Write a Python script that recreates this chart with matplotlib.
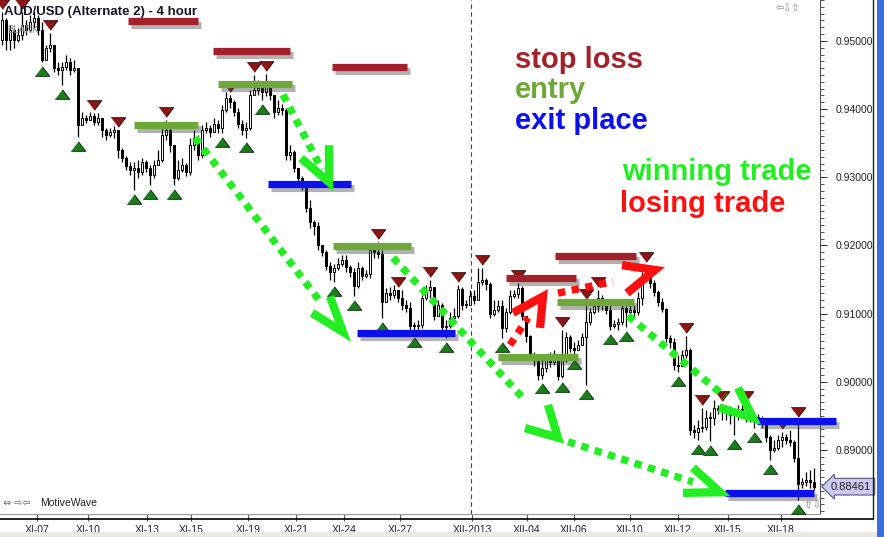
import matplotlib

matplotlib.use("Agg")
import matplotlib.pyplot as plt
import matplotlib.patheffects as pe
from matplotlib.lines import Line2D
from matplotlib.patches import Rectangle
from matplotlib.ticker import FixedLocator, MultipleLocator, FormatStrFormatter

plt.rcParams["font.family"] = ["Liberation Sans", "DejaVu Sans"]

# AUD/USD 4h candles (open of each bar = previous close)
first_open = 0.9501
closes = [
    0.9531, 0.9501, 0.9516, 0.9501, 0.9509, 0.9523, 0.9516, 0.9528, 0.9534, 0.9516,
    0.9472, 0.9490, 0.9494, 0.9460, 0.9457, 0.9462, 0.9469, 0.9457, 0.9460, 0.9377,
    0.9387, 0.9384, 0.9390, 0.9381, 0.9387, 0.9369, 0.9362, 0.9366, 0.9369, 0.9340,
    0.9328, 0.9316, 0.9311, 0.9313, 0.9308, 0.9322, 0.9313, 0.9303, 0.9318, 0.9325,
    0.9362, 0.9369, 0.9347, 0.9299, 0.9311, 0.9318, 0.9308, 0.9347, 0.9358, 0.9333,
    0.9369, 0.9372, 0.9366, 0.9378, 0.9372, 0.9399, 0.9416, 0.9410, 0.9396, 0.9378,
    0.9369, 0.9372, 0.9421, 0.9428, 0.9431, 0.9425, 0.9440, 0.9421, 0.9396, 0.9402,
    0.9399, 0.9333, 0.9337, 0.9313, 0.9299, 0.9287, 0.9255, 0.9234, 0.9229, 0.9201,
    0.9190, 0.9170, 0.9161, 0.9167, 0.9173, 0.9179, 0.9168, 0.9161, 0.9140, 0.9167,
    0.9155, 0.9158, 0.9193, 0.9190, 0.9187, 0.9117, 0.9130, 0.9127, 0.9135, 0.9123,
    0.9113, 0.9108, 0.9082, 0.9082, 0.9083, 0.9123, 0.9135, 0.9139, 0.9096, 0.9113,
    0.9080, 0.9082, 0.9093, 0.9096, 0.9136, 0.9113, 0.9113, 0.9126, 0.9120, 0.9146,
    0.9149, 0.9143, 0.9099, 0.9105, 0.9111, 0.9079, 0.9102, 0.9126, 0.9129, 0.9138,
    0.9096, 0.9067, 0.9039, 0.9032, 0.9010, 0.9020, 0.9032, 0.9029, 0.9035, 0.9008,
    0.9032, 0.9066, 0.9050, 0.9047, 0.9054, 0.9066, 0.9088, 0.9102, 0.9111, 0.9123,
    0.9113, 0.9105, 0.9082, 0.9085, 0.9088, 0.9108, 0.9102, 0.9105, 0.9102, 0.9123,
    0.9152, 0.9164, 0.9145, 0.9132, 0.9117, 0.9107, 0.9064, 0.9058, 0.9025, 0.9023,
    0.9039, 0.9047, 0.8929, 0.8926, 0.8932, 0.8934, 0.8947, 0.8947, 0.8962, 0.8959,
    0.8962, 0.8956, 0.8951, 0.8951, 0.8959, 0.8960, 0.8956, 0.8947, 0.8948, 0.8947,
    0.8938, 0.8919, 0.8900, 0.8903, 0.8915, 0.8919, 0.8915, 0.8912, 0.8888, 0.8850,
    0.8853, 0.8856, 0.8853, 0.8846,
]
highs = [
    0.9542, 0.9534, 0.9523, 0.9519, 0.9519, 0.9542, 0.9531, 0.9538, 0.9542, 0.9538,
    0.9528, 0.9494, 0.9512, 0.9494, 0.9469, 0.9469, 0.9479, 0.9475, 0.9472, 0.9460,
    0.9396, 0.9391, 0.9396, 0.9394, 0.9394, 0.9387, 0.9372, 0.9372, 0.9375, 0.9369,
    0.9343, 0.9331, 0.9322, 0.9322, 0.9325, 0.9328, 0.9325, 0.9318, 0.9325, 0.9340,
    0.9372, 0.9384, 0.9372, 0.9347, 0.9325, 0.9328, 0.9321, 0.9358, 0.9369, 0.9362,
    0.9377, 0.9381, 0.9377, 0.9387, 0.9384, 0.9406, 0.9425, 0.9421, 0.9413, 0.9402,
    0.9384, 0.9381, 0.9428, 0.9450, 0.9443, 0.9440, 0.9451, 0.9435, 0.9421, 0.9413,
    0.9407, 0.9402, 0.9347, 0.9340, 0.9313, 0.9302, 0.9287, 0.9267, 0.9237, 0.9234,
    0.9201, 0.9193, 0.9175, 0.9173, 0.9182, 0.9186, 0.9186, 0.9171, 0.9167, 0.9175,
    0.9170, 0.9164, 0.9201, 0.9201, 0.9205, 0.9193, 0.9138, 0.9139, 0.9142, 0.9135,
    0.9135, 0.9120, 0.9117, 0.9088, 0.9091, 0.9127, 0.9142, 0.9149, 0.9139, 0.9120,
    0.9116, 0.9091, 0.9102, 0.9108, 0.9142, 0.9139, 0.9120, 0.9135, 0.9135, 0.9167,
    0.9167, 0.9152, 0.9146, 0.9120, 0.9120, 0.9120, 0.9108, 0.9135, 0.9135, 0.9145,
    0.9140, 0.9096, 0.9069, 0.9044, 0.9035, 0.9032, 0.9039, 0.9044, 0.9047, 0.9039,
    0.9076, 0.9073, 0.9069, 0.9058, 0.9061, 0.9072, 0.9117, 0.9108, 0.9117, 0.9135,
    0.9127, 0.9117, 0.9113, 0.9091, 0.9094, 0.9113, 0.9111, 0.9113, 0.9113, 0.9132,
    0.9161, 0.9171, 0.9157, 0.9149, 0.9135, 0.9123, 0.9108, 0.9069, 0.9064, 0.9039,
    0.9047, 0.9067, 0.9050, 0.8937, 0.8944, 0.8961, 0.8959, 0.8956, 0.8973, 0.8966,
    0.8967, 0.8966, 0.8965, 0.8959, 0.8966, 0.8967, 0.8967, 0.8959, 0.8956, 0.8953,
    0.8950, 0.8938, 0.8922, 0.8915, 0.8922, 0.8926, 0.8923, 0.8929, 0.8915, 0.8944,
    0.8859, 0.8868, 0.8871, 0.8874,
]
lows = [
    0.9494, 0.9487, 0.9487, 0.9490, 0.9498, 0.9501, 0.9509, 0.9513, 0.9519, 0.9509,
    0.9469, 0.9472, 0.9484, 0.9454, 0.9450, 0.9435, 0.9457, 0.9450, 0.9454, 0.9359,
    0.9377, 0.9380, 0.9384, 0.9377, 0.9377, 0.9359, 0.9355, 0.9359, 0.9358, 0.9328,
    0.9322, 0.9311, 0.9303, 0.9281, 0.9299, 0.9303, 0.9308, 0.9289, 0.9299, 0.9318,
    0.9322, 0.9355, 0.9337, 0.9289, 0.9296, 0.9308, 0.9302, 0.9303, 0.9340, 0.9325,
    0.9328, 0.9365, 0.9359, 0.9369, 0.9365, 0.9365, 0.9396, 0.9402, 0.9390, 0.9372,
    0.9362, 0.9358, 0.9369, 0.9421, 0.9421, 0.9413, 0.9419, 0.9413, 0.9387, 0.9391,
    0.9391, 0.9325, 0.9325, 0.9308, 0.9292, 0.9281, 0.9249, 0.9226, 0.9215, 0.9193,
    0.9184, 0.9164, 0.9149, 0.9146, 0.9164, 0.9170, 0.9161, 0.9154, 0.9126, 0.9138,
    0.9149, 0.9152, 0.9152, 0.9182, 0.9182, 0.9094, 0.9120, 0.9120, 0.9123, 0.9117,
    0.9105, 0.9102, 0.9076, 0.9072, 0.9076, 0.9079, 0.9120, 0.9123, 0.9091, 0.9098,
    0.9073, 0.9064, 0.9079, 0.9091, 0.9093, 0.9105, 0.9108, 0.9113, 0.9114, 0.9120,
    0.9142, 0.9135, 0.9094, 0.9096, 0.9102, 0.9064, 0.9073, 0.9099, 0.9123, 0.9123,
    0.9091, 0.9058, 0.9032, 0.9023, 0.9003, 0.9004, 0.9014, 0.9022, 0.9025, 0.9003,
    0.9006, 0.9029, 0.9044, 0.9039, 0.9047, 0.9058, 0.8995, 0.9083, 0.9099, 0.9102,
    0.9105, 0.9099, 0.9076, 0.9079, 0.9076, 0.9083, 0.9080, 0.9096, 0.9094, 0.9098,
    0.9113, 0.9146, 0.9138, 0.9126, 0.9111, 0.9102, 0.9058, 0.9050, 0.9017, 0.9014,
    0.9025, 0.9035, 0.8922, 0.8918, 0.8915, 0.8926, 0.8929, 0.8913, 0.8937, 0.8953,
    0.8944, 0.8944, 0.8938, 0.8922, 0.8944, 0.8951, 0.8941, 0.8941, 0.8932, 0.8938,
    0.8932, 0.8912, 0.8885, 0.8897, 0.8900, 0.8904, 0.8909, 0.8906, 0.8882, 0.8827,
    0.8844, 0.8847, 0.8844, 0.8841,
]

swing_high_bars = [0, 5, 12, 23, 29, 41, 57, 63, 66, 94, 99, 107, 114, 120, 129,
                   140, 146, 149, 161, 171, 175, 180, 186, 195, 199]
swing_low_bars = [10, 15, 19, 33, 37, 43, 55, 61, 65, 83, 88, 95, 103, 111, 125, 135,
                  140, 143, 146, 152, 156, 169, 174, 177, 183, 188, 192, 199]

tick_bars = [8.75, 21.5, 36.25, 47.25, 61.5, 73.5, 85.5, 99.5, 117.5, 131.25, 143,
             157, 169, 181.5, 194.75]
tick_labels = ["XI-07", "XI-10", "XI-13", "XI-15", "XI-19", "XI-21", "XI-24", "XI-27",
               "XII-2013", "XII-04", "XII-06", "XII-10", "XII-12", "XII-15", "XII-18"]
month_break_bar = 117.25
last_price = 0.88461

# drawn trade levels: (start bar, end bar, price)
stop_levels = [(31.5, 49, 0.9529), (52.75, 72, 0.9485), (82.5, 101.25, 0.9462),
               (126, 143.5, 0.9152), (138.25, 158.5, 0.9185)]
entry_levels = [(33, 49, 0.9377), (54, 72.5, 0.9437), (82.75, 102.25, 0.9199),
                (124, 144, 0.9036), (138.75, 158, 0.9117)]
exit_levels = [(66.5, 87.25, 0.9290), (88.75, 113.25, 0.9072), (188.75, 208.5, 0.8943),
               (180.75, 203, 0.8837)]

# drawn trade arrows: dotted start, dotted end, head tip, head arm 1, head arm 2
win_arrows = [
    ((70.25, 0.9421), (80, 0.9311), (81.75, 0.9293), (81.75, 0.9347), (74.75, 0.9328)),
    ((48.25, 0.9358), (80, 0.9114), (85.25, 0.9073), (82, 0.9125), (77.5, 0.9101)),
    ((97.75, 0.9182), (130.75, 0.8973), (139, 0.8918), (136.5, 0.8966), (130.75, 0.8932)),
    ((141.5, 0.8912), (172.75, 0.8853), (179.5, 0.8838), (172.75, 0.8874), (170.25, 0.8837)),
    ((156.5, 0.9097), (180.75, 0.8978), (187.75, 0.8947), (184, 0.8991), (179.25, 0.8962)),
]
lose_arrows = [
    ((127, 0.9054), (131.5, 0.9094), (135.25, 0.9125), (127.75, 0.9101), (134.5, 0.9079)),
    ((139, 0.9130), (152.75, 0.9147), (163.25, 0.9164), (155, 0.9171), (156.25, 0.9130)),
]

STOP_COLOR = "#a3212b"
ENTRY_COLOR = "#6ea83a"
EXIT_COLOR = "#0c10ee"
WIN_COLOR = "#22ee22"
LOSE_COLOR = "#ff1010"

# flat triangles like the platform's swing markers
DOWN_TRI = [(-1, 0.66), (1, 0.66), (0, -0.66)]
UP_TRI = [(-1, -0.66), (1, -0.66), (0, 0.66)]

W, H = 884, 537
fig = plt.figure(figsize=(W / 100, H / 100), dpi=100)
fig.patch.set_facecolor("white")
ax = fig.add_axes([0, 23 / H, 820 / W, 514 / H])
ax.set_facecolor("white")

# candles
opens = [first_open] + closes[:-1]
for i, (o, c, h, l) in enumerate(zip(opens, closes, highs, lows)):
    ax.vlines(i, l, h, color="black", lw=0.9, zorder=2)
    body = max(abs(c - o), 0.00006)
    fc = "white" if c > o else "black"
    ax.bar(i, body, bottom=min(o, c), width=0.72, color=fc, edgecolor="black",
           linewidth=0.7, zorder=2.5)

# swing markers
ax.plot(swing_high_bars, [highs[i] + 0.0012 for i in swing_high_bars], marker=DOWN_TRI,
        ms=10.5, mfc="#8c1515", mec="#2a0000", mew=0.6, ls="none", zorder=3)
ax.plot(swing_low_bars, [lows[i] - 0.0013 for i in swing_low_bars], marker=UP_TRI,
        ms=10.5, mfc="#1d7d1d", mec="#002000", mew=0.6, ls="none", zorder=3)

ax.axvline(month_break_bar, color="#444444", lw=0.8, ls=(0, (4, 3)), zorder=1)

shadow = [pe.SimpleLineShadow(offset=(2.5, -3), shadow_color="#404040", alpha=0.4),
          pe.Normal()]
for levels, color in [(stop_levels, STOP_COLOR), (entry_levels, ENTRY_COLOR),
                      (exit_levels, EXIT_COLOR)]:
    for x0, x1, price in levels:
        ax.plot([x0, x1], [price, price], color=color, lw=5.2, solid_capstyle="butt",
                path_effects=shadow, zorder=4, clip_on=False)

for arrows, color in [(win_arrows, WIN_COLOR), (lose_arrows, LOSE_COLOR)]:
    for start, end, tip, arm1, arm2 in arrows:
        ax.plot([start[0], end[0]], [start[1], end[1]], color=color, lw=5.3,
                ls=(0, (1, 0.9)), dash_capstyle="butt", zorder=5)
        ax.plot([arm1[0], tip[0], arm2[0]], [arm1[1], tip[1], arm2[1]], color=color,
                lw=6, solid_joinstyle="miter", solid_capstyle="butt", zorder=5)

ax.set_xlim(-0.5, 204.5)
ax.set_ylim(0.8806, 0.9560)

ax.yaxis.tick_right()
ax.yaxis.set_major_locator(MultipleLocator(0.01))
ax.yaxis.set_minor_locator(MultipleLocator(0.001))
ax.yaxis.set_major_formatter(FormatStrFormatter("%.5f"))
ax.tick_params(axis="y", which="major", length=5, width=0.8, color="#333333",
               labelsize=7.5, labelcolor="#222222", pad=6)
ax.tick_params(axis="y", which="minor", length=3, width=0.6, color="#333333")

ax.xaxis.set_major_locator(FixedLocator(tick_bars))
ax.set_xticklabels(tick_labels)
ax.tick_params(axis="x", length=5, width=0.8, color="#555555", labelsize=7.5,
               labelcolor="#222222", pad=3)

for side in ["top", "left"]:
    ax.spines[side].set_visible(False)
ax.spines["bottom"].set_color("#9a9a9a")
ax.spines["right"].set_color("#555555")

# window chrome around the price panel
fig.add_artist(Line2D([0, 873 / W], [(H - 519) / H] * 2, color="black", lw=1.2))
fig.add_artist(Line2D([873 / W] * 2, [(H - 519) / H, 1], color="#222222", lw=1.0))
fig.add_artist(Rectangle((0, 0), 1, 5 / H, color="#ece9e2", lw=0))
fig.add_artist(Rectangle((877 / W, 0), 7 / W, 1, color="#3d6fd9", lw=0))


def px(x, y):
    return x / W, 1 - y / H


fig.text(*px(4, 12), "AUD/USD (Alternate 2) - 4 hour", fontsize=9.5,
         fontweight="bold", color="#151525", va="center", ha="left")
fig.text(*px(7, 30), "BLANK", fontsize=7, color="#888888", va="center", ha="left")
fig.text(*px(3, 503), "\u21d4 \u21e8\u21e6", fontsize=7, color="#666666",
         family="DejaVu Sans", va="center", ha="left")
fig.text(*px(40, 503), "MotiveWave", fontsize=7.5, color="#222222", va="center", ha="left")
fig.text(*px(776, 8), "\u21e6\u21e9\u21e7", fontsize=7, color="#888888",
         family="DejaVu Sans", va="center", ha="left")
fig.text(*px(803, 505), "\u21e7\u21e9", fontsize=8, color="#888888",
         family="DejaVu Sans", va="center", ha="left")

big = dict(fontsize=21, fontweight="bold", va="center", ha="left")
fig.text(*px(515, 60), "stop loss", color=STOP_COLOR, **big)
fig.text(*px(515, 90), "entry", color=ENTRY_COLOR, **big)
fig.text(*px(515, 121), "exit place", color=EXIT_COLOR, **big)
fig.text(*px(622, 172), "winning trade", color=WIN_COLOR, **big)
fig.text(*px(620, 204), "losing trade", color=LOSE_COLOR, **big)

ax.annotate(f"{last_price:.5f}", xy=(1, last_price), xycoords=("axes fraction", "data"),
            xytext=(8, 0), textcoords="offset points", fontsize=8, color="#222222",
            va="center", ha="left", annotation_clip=False,
            bbox=dict(boxstyle="larrow,pad=0.3", fc="#cacaf2", ec="#55557a", lw=0.8))

fig.savefig("out.png", dpi=100)
